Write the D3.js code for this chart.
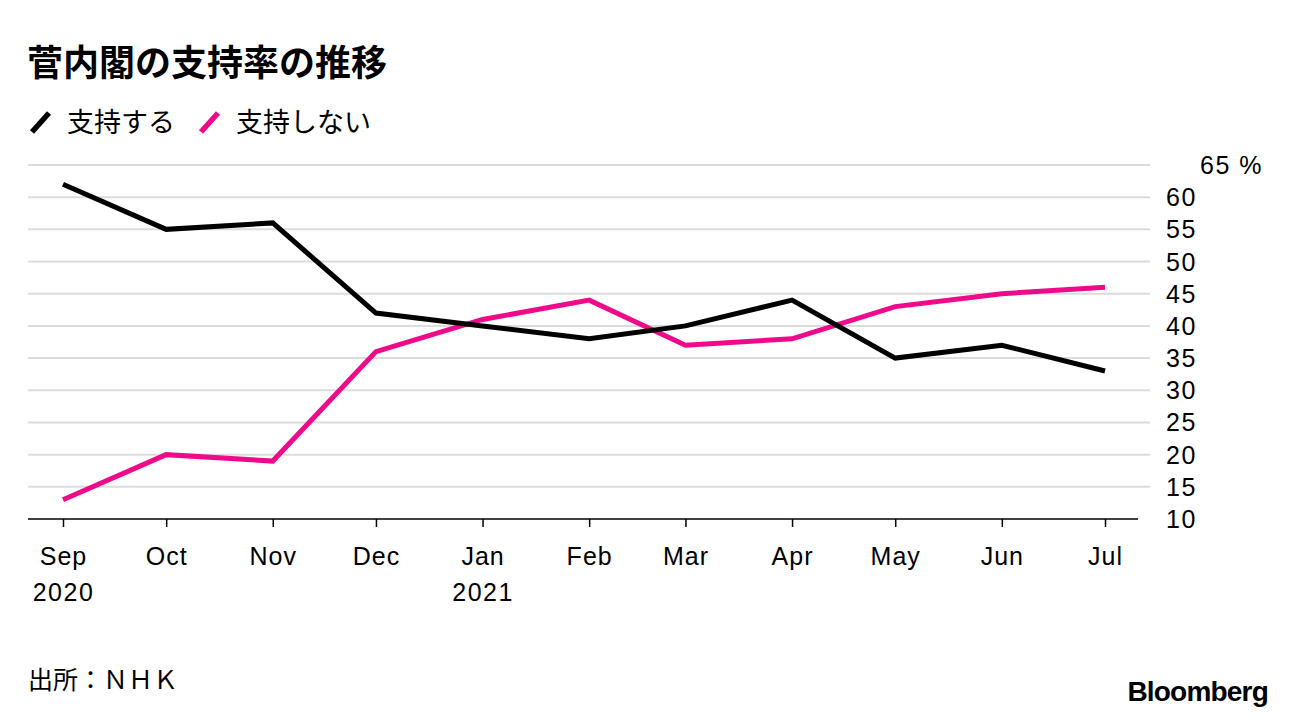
<!DOCTYPE html>
<html>
<head>
<meta charset="utf-8">
<script src="https://cdn.jsdelivr.net/npm/d3@7"></script>
<style>
  body { margin: 0; background: #fff; }
  svg { display: block; }
  .jp { font-family: "Noto Sans CJK JP", sans-serif; }
  .tick text, .lat { font-family: "Liberation Sans", Arial, sans-serif; }
</style>
</head>
<body>
<svg width="1296" height="718"></svg>
<script>
// months of the survey
var months = ["2020-09-01", "2020-10-01", "2020-11-01", "2020-12-01", "2021-01-01",
  "2021-02-01", "2021-03-01", "2021-04-01", "2021-05-01", "2021-06-01", "2021-07-01"];
var support = [62, 55, 56, 42, 40, 38, 40, 44, 35, 37, 33];
var notSupport = [13, 20, 19, 36, 41, 44, 37, 38, 43, 45, 46];
var yTicks = [10, 15, 20, 25, 30, 35, 40, 45, 50, 55, 60, 65];

var parse = d3.timeParse("%Y-%m-%d");
var dates = months.map(parse);

var svg = d3.select("svg");
var pink = "#ef0a8a";

var x = d3.scaleTime()
  .domain([dates[0], dates[dates.length - 1]])
  .range([63, 1105]);
var y = d3.scaleLinear().domain([10, 65]).range([519, 165]);

// gridlines
svg.append("g")
  .selectAll("line")
  .data(yTicks.slice(1))
  .enter()
  .append("line")
  .attr("x1", 28).attr("x2", 1150)
  .attr("y1", function(d) { return y(d); })
  .attr("y2", function(d) { return y(d); })
  .attr("stroke", "#dcdcdc")
  .attr("stroke-width", 2);

// y labels
svg.append("g")
  .selectAll("text")
  .data(yTicks)
  .enter()
  .append("text")
  .attr("class", "lat")
  .attr("x", function(d) { return d === 65 ? 1200 : 1166; })
  .attr("y", function(d) { return y(d) + 9; })
  .attr("font-size", 25)
  .attr("letter-spacing", 1.5)
  .attr("fill", "#000")
  .text(function(d) { return d === 65 ? "65 %" : d; });

// x axis
var xAxis = d3.axisBottom(x)
  .tickValues(dates)
  .tickSize(8)
  .tickPadding(20)
  .tickFormat(d3.timeFormat("%b"));

var gx = svg.append("g")
  .attr("transform", "translate(0,519)")
  .call(xAxis);
gx.select(".domain").remove();
gx.selectAll(".tick line").attr("stroke", "#000").attr("stroke-width", 1.5);
gx.selectAll(".tick text").attr("font-size", 25).attr("letter-spacing", 1).attr("fill", "#000");
gx.selectAll(".tick")
  .filter(function(d) { return d.getMonth() === 8 || d.getMonth() === 0; })
  .append("text")
  .attr("y", 82)
  .attr("font-size", 25)
  .attr("letter-spacing", 1.5)
  .attr("fill", "#000")
  .attr("text-anchor", "middle")
  .text(function(d) { return d.getFullYear(); });

svg.append("line")
  .attr("x1", 28).attr("x2", 1138)
  .attr("y1", 519).attr("y2", 519)
  .attr("stroke", "#000").attr("stroke-width", 1.5);

var line = d3.line()
  .x(function(d, i) { return x(dates[i]); })
  .y(function(d) { return y(d); });

svg.append("path")
  .datum(notSupport)
  .attr("d", line)
  .attr("fill", "none")
  .attr("stroke", pink)
  .attr("stroke-width", 5);

svg.append("path")
  .datum(support)
  .attr("d", line)
  .attr("fill", "none")
  .attr("stroke", "#000")
  .attr("stroke-width", 5);

// title
svg.append("text")
  .attr("class", "jp")
  .attr("x", 27).attr("y", 76)
  .attr("font-size", 36)
  .attr("font-weight", "bold")
  .text("菅内閣の支持率の推移");

// legend
var legend = [
  {label: "支持する", color: "#000", x: 32},
  {label: "支持しない", color: pink, x: 201}
];
legend.forEach(function(l) {
  svg.append("line")
    .attr("x1", l.x).attr("y1", 132)
    .attr("x2", l.x + 17).attr("y2", 113)
    .attr("stroke", l.color)
    .attr("stroke-width", 5.5);
  svg.append("text")
    .attr("class", "jp")
    .attr("x", l.x + 35).attr("y", 132)
    .attr("font-size", 27)
    .text(l.label);
});

// source
svg.append("text")
  .attr("class", "jp")
  .attr("x", 28).attr("y", 689)
  .attr("font-size", 25)
  .text("出所：ＮＨＫ");

svg.append("text")
  .attr("class", "lat")
  .attr("x", 1268).attr("y", 701)
  .attr("text-anchor", "end")
  .attr("font-size", 28)
  .attr("font-weight", "bold")
  .attr("letter-spacing", -0.8)
  .text("Bloomberg");
</script>
</body>
</html>
